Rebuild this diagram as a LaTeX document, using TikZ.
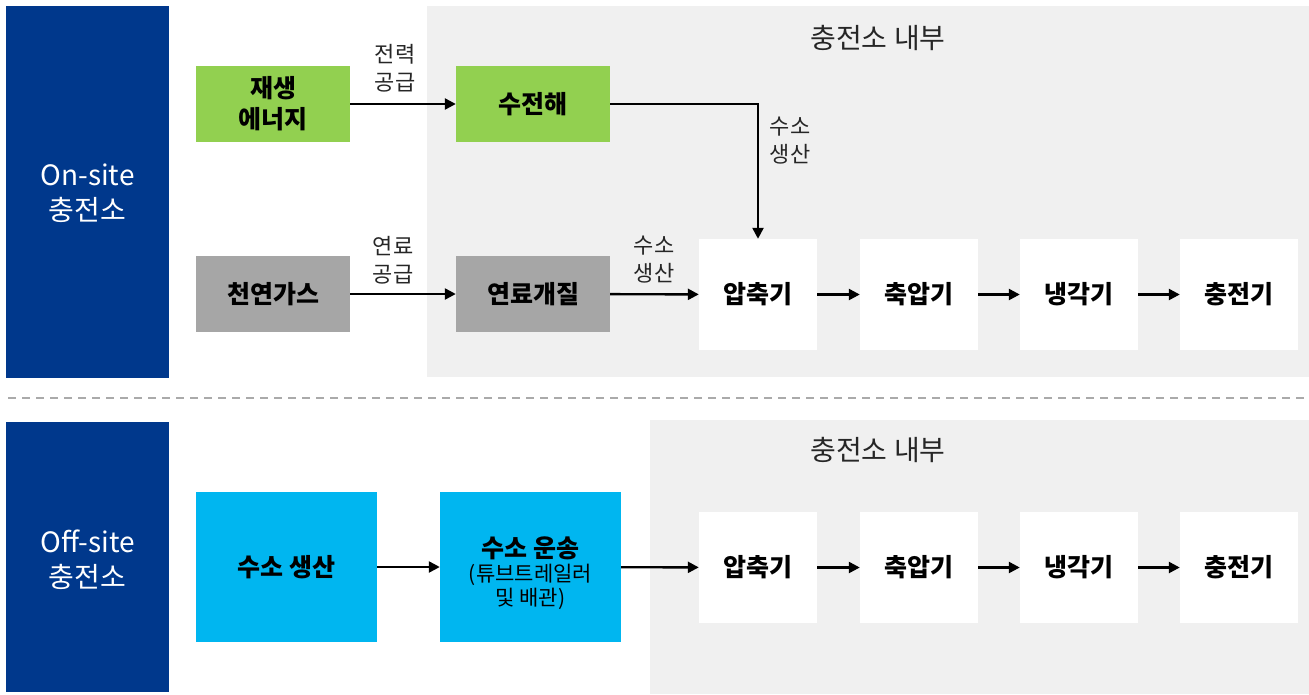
\documentclass[tikz,border=0pt]{standalone}
\usepackage{fontspec}
\setmainfont{Noto Sans CJK KR}
\usetikzlibrary{arrows.meta}
\definecolor{navy}{RGB}{0,56,140}
\definecolor{bggray}{RGB}{240,240,240}
\definecolor{grn}{RGB}{146,208,80}
\definecolor{gry}{RGB}{166,166,166}
\definecolor{cyn}{RGB}{0,182,240}
\definecolor{dashgray}{RGB}{170,170,170}
\tikzset{
  sidebox/.style={text=white, font=\fontsize{28}{35}\selectfont, align=center, inner sep=0pt},
  area/.style={fill=bggray},
  procbox/.style={minimum width=154pt, minimum height=76pt, inner sep=0pt, font=\fontsize{25}{31}\selectfont\bfseries, align=center},
  whitebox/.style={fill=white, minimum width=118pt, minimum height=111pt, inner sep=0pt, font=\fontsize{25}{31}\selectfont\bfseries},
  bluebox/.style={fill=cyn, minimum width=181pt, minimum height=150pt, inner sep=0pt, align=center, font=\fontsize{21}{24}\selectfont},
  conn/.style={line width=2.4pt, -{Triangle[length=11pt,width=11pt]}},
  lbl/.style={font=\fontsize{22}{28}\selectfont, align=center, text=black!85},
  title/.style={font=\fontsize{28}{32}\selectfont, text=black!85}
}
\begin{document}
\begin{tikzpicture}[x=1pt,y=-1pt]
\useasboundingbox (0,0) rectangle (1309,694);
% backgrounds
\fill[area] (427,6) rectangle (1309,377);
\fill[area] (650,420) rectangle (1309,694);
\fill[navy] (6,6) rectangle (169,378);
\fill[navy] (6,422) rectangle (169,692);
\node[sidebox] (onsite) at (87.5,193) {On-site\\충전소};
\node[sidebox] (offsite) at (87.5,560) {Off-site\\충전소};
\draw[dashgray, line width=2.5pt, dash pattern=on 8pt off 6pt] (8,398) -- (1305,398);
\node[title] (t1) at (878,38) {충전소 내부};
\node[title] (t2) at (878,450) {충전소 내부};
% top row
\node[procbox, fill=grn] (renew) at (273,104) {재생\\에너지};
\node[procbox, fill=grn] (elec) at (533,104) {수전해};
\node[procbox, fill=gry] (gas) at (273,294) {천연가스};
\node[procbox, fill=gry] (reform) at (533,294) {연료개질};
\node[whitebox] (comp1) at (758,294.5) {압축기};
\node[whitebox] (acc1) at (919,294.5) {축압기};
\node[whitebox] (cool1) at (1079,294.5) {냉각기};
\node[whitebox] (chg1) at (1239,294.5) {충전기};
% bottom row
\node[bluebox] (prod) at (286.5,567) {\fontsize{25}{31}\selectfont\bfseries 수소 생산};
\node[bluebox] (trans) at (530.5,567) {};
\node[align=center, font=\fontsize{21}{24}\selectfont, inner sep=0pt] (transtxt) at (530.5,573) {{\fontsize{25}{24}\selectfont\bfseries 수소 운송}\\(튜브트레일러\\및 배관)};
\node[whitebox] (comp2) at (758,567.5) {압축기};
\node[whitebox] (acc2) at (919,567.5) {축압기};
\node[whitebox] (cool2) at (1079,567.5) {냉각기};
\node[whitebox] (chg2) at (1239,567.5) {충전기};
% connectors top
\draw[conn] (renew) -- (elec);
\node[lbl] (l1) at (395,68) {전력\\공급};
\draw[conn] (elec.east) -| (comp1.north);
\node[lbl] (l2) at (790,141) {수소\\생산};
\draw[conn] (gas) -- (reform);
\node[lbl] (l3) at (393,260) {연료\\공급};
\draw[conn] (reform) -- (comp1);
\node[lbl] (l4) at (654,260) {수소\\생산};
\draw[conn] (comp1) -- (acc1);
\draw[conn] (acc1) -- (cool1);
\draw[conn] (cool1) -- (chg1);
% connectors bottom
\draw[conn] (prod) -- (trans);
\draw[conn] (trans) -- (comp2);
\draw[conn] (comp2) -- (acc2);
\draw[conn] (acc2) -- (cool2);
\draw[conn] (cool2) -- (chg2);
\end{tikzpicture}
\end{document}
